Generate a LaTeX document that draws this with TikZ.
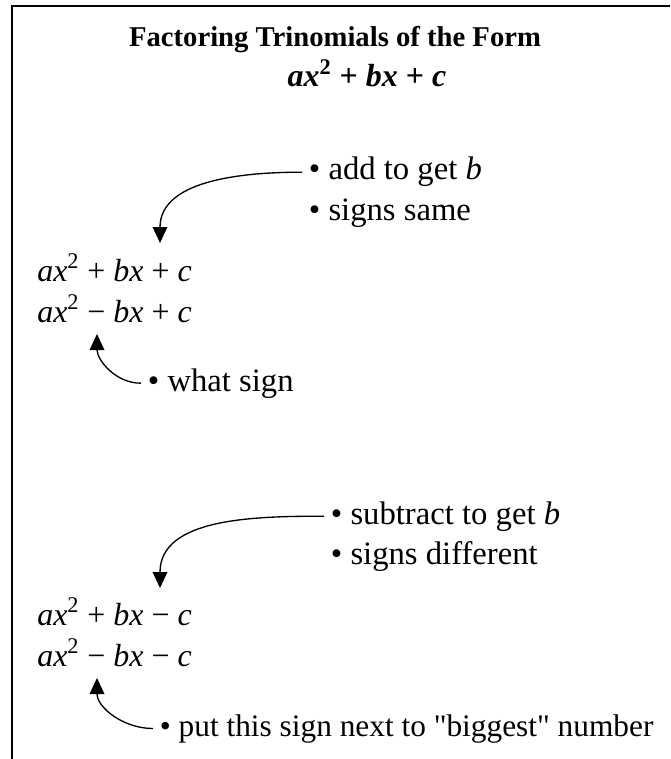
\documentclass[tikz,border=0pt]{standalone}
\usepackage{fontspec}
\setmainfont{Liberation Serif}
\usetikzlibrary{arrows.meta}

\newcommand{\trinom}[2]{\textit{ax}\textsuperscript{2} #1 \textit{bx} #2 \textit{c}}

\begin{document}
\begin{tikzpicture}[
  x=0.75pt, y=-0.75pt,
  heading/.style = {inner sep=0pt, font=\fontsize{21.5}{26}\selectfont\bfseries},
  expr/.style    = {anchor=base west, inner sep=0pt, font=\fontsize{24}{28}\selectfont},
  note/.style    = {anchor=base west, inner xsep=5pt, inner ysep=0pt,
                    font=\fontsize{24.5}{28}\selectfont},
  arrow/.style   = {-{Triangle[length=12pt,width=11pt]}, line width=1pt},
  frame/.style   = {line width=1.5pt},
]
\useasboundingbox (0,0) rectangle (670,759);

%% --- Frame (top and left edges) ---
\draw[frame] (12,759) -- (12,6) -- (670,6);

%% --- Heading ---
\node[heading, anchor=base] (title) at (335,47) {Factoring Trinomials of the Form};
\node[heading, anchor=base, font=\fontsize{24}{28}\selectfont\bfseries] (form) at (367,87)
  {\textit{ax}\textsuperscript{2} + \textit{bx} + \textit{c}};

%% --- Case 1: c positive ---
\node[note] (add)  at (302,180) {\textbullet\ add to get \textit{b}};
\node[note] (same) at (302,220) {\textbullet\ signs same};
\node[expr] (e1)   at (37,281)  {\trinom{+}{+}};
\node[expr] (e2)   at (37,322)  {\trinom{−}{+}};
\node[note] (what) at (141,391) {\textbullet\ what sign};

\coordinate (tipA) at (160,243);
\coordinate (tipB) at (97,334);

\draw[arrow] (add.west)  to[out=180, in=90]  (tipA);
\draw[arrow] (what.west) to[out=180, in=270] (tipB);

%% --- Case 2: c negative ---
\node[note] (sub)  at (324,524) {\textbullet\ subtract to get \textit{b}};
\node[note] (diff) at (324,564) {\textbullet\ signs different};
\node[expr] (e3)   at (37,625)  {\trinom{+}{−}};
\node[expr] (e4)   at (37,666)  {\trinom{−}{−}};
\node[note, font=\fontsize{23.5}{28}\selectfont] (put) at (153,736)
  {\textbullet\ put this sign next to \textquotedbl biggest\textquotedbl\ number};

\coordinate (tipC) at (160,588);
\coordinate (tipD) at (97,678);

\draw[arrow] (sub.west) to[out=180, in=90]  (tipC);
\draw[arrow] (put.west) to[out=180, in=270] (tipD);

\end{tikzpicture}
\end{document}
